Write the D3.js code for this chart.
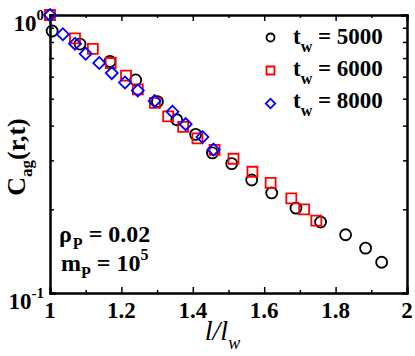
<!DOCTYPE html>
<meta charset="utf-8">
<style>
  body { margin: 0; background: #fff; }
</style>
<div id="chart"></div>
<script src="https://d3js.org/d3.v7.min.js"></script>
<script>
// data
var xTicks = [1, 1.2, 1.4, 1.6, 1.8, 2];
var xTickLabels = ["1", "1.2", "1.4", "1.6", "1.8", "2"];
var xMinor = [1.1, 1.3, 1.5, 1.7, 1.9];
var yTicks = [0.1, 1];
var yTickExp = ["-1", "0"];
var yMinor = [0.2, 0.3, 0.4, 0.5, 0.6, 0.7, 0.8, 0.9];

var tw5000X = [1.006, 1.084, 1.168, 1.240, 1.301, 1.355, 1.408, 1.455, 1.509, 1.565, 1.621, 1.689, 1.758, 1.828, 1.884, 1.929];
var tw5000Y = [0.876, 0.786, 0.681, 0.584, 0.488, 0.420, 0.372, 0.319, 0.292, 0.255, 0.229, 0.202, 0.180, 0.162, 0.145, 0.129];

var tw6000X = [1.0, 1.070, 1.120, 1.170, 1.213, 1.246, 1.294, 1.331, 1.373, 1.413, 1.461, 1.514, 1.567, 1.618, 1.676, 1.712, 1.746];
var tw6000Y = [1.0, 0.824, 0.755, 0.672, 0.605, 0.540, 0.483, 0.432, 0.396, 0.360, 0.327, 0.304, 0.273, 0.249, 0.219, 0.200, 0.182];

var tw8000X = [1.0, 1.036, 1.070, 1.100, 1.138, 1.173, 1.210, 1.246, 1.293, 1.343, 1.380, 1.427, 1.458];
var tw8000Y = [1.0, 0.853, 0.788, 0.725, 0.672, 0.618, 0.572, 0.535, 0.490, 0.449, 0.405, 0.364, 0.328];

var legendLabels = ["5000", "6000", "8000"];

var FONT = "'Liberation Serif', 'Times New Roman', Times, serif";

var svg = d3.select("#chart").append("svg").attr("width", 415).attr("height", 356)
    .style("font-family", FONT),
    margin = {top: 15, right: 8, bottom: 63, left: 50},
    width = 415 - margin.left - margin.right,
    height = 356 - margin.top - margin.bottom,
    g = svg.append("g").attr("transform", "translate(" + margin.left + "," + margin.top + ")");

var x = d3.scaleLinear().domain([1, 2]).range([0, width]);
var y = d3.scaleLog().domain([0.1, 1]).range([height, 0]);

function zip(xs, ys) { return xs.map(function(v, i) { return {x: v, y: ys[i]}; }); }

function txt(sel, size) {
  return sel.append("text")
    .style("font-family", FONT)
    .style("font-weight", "bold")
    .style("font-size", size + "px")
    .attr("fill", "#000");
}

// frame + ticks (inward)
function tickAxis(axis, vals, size) {
  return axis.tickValues(vals).tickSize(-size).tickFormat("");
}
[[xTicks, 6], [xMinor, 3]].forEach(function(p) {
  g.append("g").attr("transform", "translate(0," + height + ")").call(tickAxis(d3.axisBottom(x), p[0], p[1]));
  g.append("g").call(tickAxis(d3.axisTop(x), p[0], p[1]));
});
[[yTicks, 6], [yMinor, 4]].forEach(function(p) {
  g.append("g").call(tickAxis(d3.axisLeft(y), p[0], p[1]));
  g.append("g").attr("transform", "translate(" + width + ",0)").call(tickAxis(d3.axisRight(y), p[0], p[1]));
});
g.selectAll(".domain").attr("stroke-width", 2);
g.selectAll(".tick line").attr("stroke-width", 1.5);

// tick labels
xTicks.forEach(function(d, i) {
  txt(g, 23).attr("x", x(d)).attr("y", height + 25)
    .attr("text-anchor", "middle").text(xTickLabels[i]);
});

yTicks.forEach(function(d, i) {
  var t = txt(g, 23).attr("x", -6).attr("y", y(d) + 16).attr("text-anchor", "end");
  t.append("tspan").text("10");
  t.append("tspan").attr("dy", -11).style("font-size", "15px").text(yTickExp[i]);
});

// axis titles
var xt = txt(svg, 28)
  .attr("x", margin.left + width / 2 - 6)
  .attr("y", 340)
  .attr("text-anchor", "middle")
  .style("font-style", "italic")
  .style("font-weight", "normal");
xt.append("tspan").text("l/l");
xt.append("tspan").attr("dy", 9).style("font-size", "18px").text("w");

var yt = txt(svg, 26)
  .attr("transform", "translate(25,157) rotate(-90)")
  .attr("text-anchor", "middle");
yt.append("tspan").text("C");
yt.append("tspan").attr("dy", 7).style("font-size", "17px").text("ag");
yt.append("tspan").attr("dy", -7).text("(r,t)");

// series
var sq = d3.symbol().type(d3.symbolSquare);

g.selectAll(".c5000").data(zip(tw5000X, tw5000Y)).enter().append("circle")
  .attr("cx", function(d) { return x(d.x); })
  .attr("cy", function(d) { return y(d.y); })
  .attr("r", 5.5)
  .attr("fill", "none").attr("stroke", "#000").attr("stroke-width", 1.8);

g.selectAll(".s6000").data(zip(tw6000X, tw6000Y)).enter().append("path")
  .attr("d", sq.size(100))
  .attr("transform", function(d) { return "translate(" + x(d.x) + "," + y(d.y) + ")"; })
  .attr("fill", "none").attr("stroke", "#ff0000").attr("stroke-width", 1.8);

g.selectAll(".d8000").data(zip(tw8000X, tw8000Y)).enter().append("path")
  .attr("d", sq.size(72))
  .attr("transform", function(d) { return "translate(" + x(d.x) + "," + y(d.y) + ") rotate(45)"; })
  .attr("fill", "none").attr("stroke", "#0000ff").attr("stroke-width", 1.8);

// legend
var legY = [44, 76, 108];
svg.append("circle").attr("cx", 270.5).attr("cy", legY[0] - 6.5).attr("r", 4)
  .attr("fill", "none").attr("stroke", "#000").attr("stroke-width", 1.8);
svg.append("path").attr("d", sq.size(64))
  .attr("transform", "translate(270.5," + (legY[1] - 5.5) + ")")
  .attr("fill", "none").attr("stroke", "#ff0000").attr("stroke-width", 1.8);
svg.append("path").attr("d", sq.size(44))
  .attr("transform", "translate(270.5," + (legY[2] - 4.5) + ") rotate(45)")
  .attr("fill", "none").attr("stroke", "#0000ff").attr("stroke-width", 1.8);

legendLabels.forEach(function(lab, i) {
  var t = txt(svg, 23).attr("x", 293).attr("y", legY[i]);
  t.append("tspan").text("t");
  t.append("tspan").attr("dy", 8).style("font-size", "16px").text("w");
  t.append("tspan").attr("dy", -8).text(" = " + lab);
});

// annotations
var a1 = txt(svg, 24).attr("x", 59).attr("y", 242);
a1.append("tspan").text("\u03c1");
a1.append("tspan").attr("dx", 1).attr("dy", 7).style("font-size", "16px").text("P");
a1.append("tspan").attr("dy", -7).text(" = 0.02");

var a2 = txt(svg, 24).attr("x", 61).attr("y", 271);
a2.append("tspan").text("m");
a2.append("tspan").attr("dy", 7).style("font-size", "16px").text("P");
a2.append("tspan").attr("dy", -7).text(" = 10");
a2.append("tspan").attr("dy", -11).style("font-size", "16px").text("5");
</script>
